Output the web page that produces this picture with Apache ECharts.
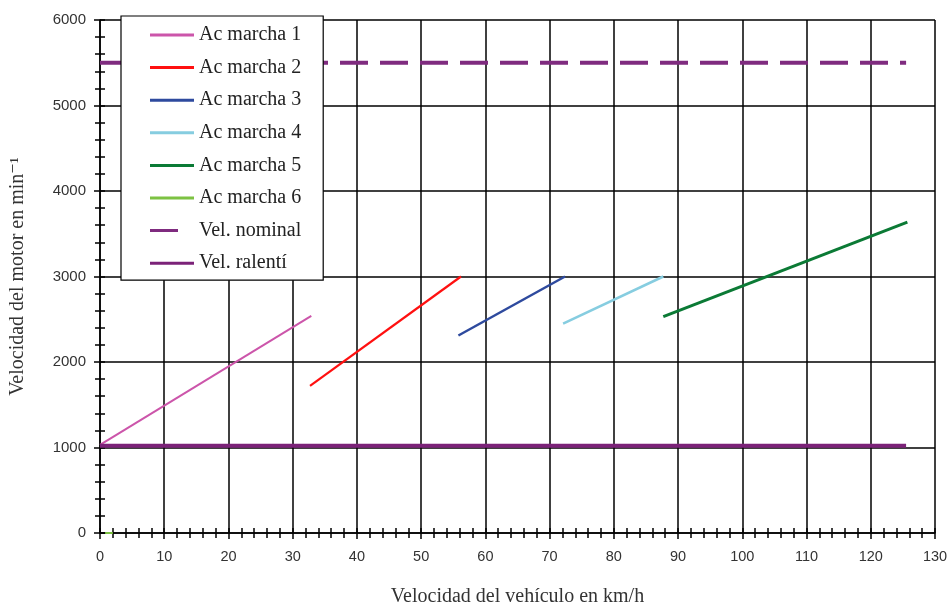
<!DOCTYPE html>
<html><head><meta charset="utf-8">
<script src="https://cdn.jsdelivr.net/npm/echarts@6/dist/echarts.min.js"></script>
<style>html,body{margin:0;padding:0;background:#fff}#c{width:952px;height:606px}</style>
</head><body><div id="c"></div>
<script>
const seriesNames = ['Ac marcha 1','Ac marcha 2','Ac marcha 3','Ac marcha 4','Ac marcha 5','Ac marcha 6','Vel. nominal','Vel. ralentí'];
const speedX = [
  [0, 32.9],
  [32.7, 56.2],
  [55.8, 72.4],
  [72.1, 87.7],
  [87.7, 125.7],
  [0.8, 2.0],
  [0, 125.5],
  [0, 125.5]
];
const rpmY = [
  [1030, 2540],
  [1720, 3000],
  [2310, 3000],
  [2450, 3000],
  [2530, 3635],
  [0, 0],
  [5500, 5500],
  [1020, 1020]
];
const xTicks = [0,10,20,30,40,50,60,70,80,90,100,110,120,130];
const yTicks = [0,1000,2000,3000,4000,5000,6000];

const colors = ['#CC55AA','#FF1010','#2E4A9E','#86CDE0','#0B7A35','#7DC242','#7F2B7F','#7B2278'];
const widths = [2,2.2,2.5,2.5,3,2,4,4];

const series = seriesNames.map((n,i)=>({
  name: n, type:'line', symbol:'none', xAxisIndex:0, yAxisIndex:0,
  data: speedX[i].map((x,j)=>[x, rpmY[i][j]]),
  lineStyle:{color:colors[i], width:widths[i], type: i===6 ? [28,12] : 'solid'},
  itemStyle:{color:colors[i]},
  z: i===7 ? 3 : 2,
  animation:false
}));

const lineIcon = 'path://M0,0L44,0L44,3L0,3Z';
const dashIcon = 'path://M0,0L28,0L28,3L0,3ZM44,0L44,3';
const serif = '"Liberation Serif","DejaVu Serif",serif';
const sans = '"Liberation Sans",Arial,sans-serif';
const chart = echarts.init(document.getElementById('c'));
chart.setOption({
  animation:false,
  grid:{left:100,right:17,top:20,bottom:73, containLabel:false, outerBoundsMode:'none'},
  legend:{
    orient:'vertical', left:121, top:16,
    data: seriesNames.map((n,i)=>({name:n, icon: i===6 ? dashIcon : lineIcon})),
    backgroundColor:'#fff', borderColor:'#000', borderWidth:1.2, borderRadius:0,
    padding:[9,22,7,29], itemWidth:44, itemHeight:3, itemGap:12.6,
    textStyle:{fontFamily:serif, fontSize:20, color:'#222'},
    z: 10
  },
  xAxis:[{
    type:'value', min:xTicks[0], max:xTicks[xTicks.length-1], interval:10,
    name:'Velocidad del vehículo en km/h', nameLocation:'middle', nameGap:54,
    nameTextStyle:{fontFamily:serif, fontSize:20, color:'#333'},
    axisLine:{show:true, lineStyle:{color:'#000', width:1.5}},
    axisTick:{show:true, length:6, lineStyle:{color:'#000', width:1.5}},
    minorTick:{show:true, splitNumber:5, length:5, lineStyle:{color:'#000', width:1.5}},
    axisLabel:{fontFamily:sans, fontSize:14.5, color:'#333', margin:16},
    splitLine:{show:true, lineStyle:{color:'#000', width:1.5}}
  },{
    type:'value', min:xTicks[0], max:xTicks[xTicks.length-1], interval:10, position:'bottom',
    axisLine:{show:false},
    axisTick:{show:true, inside:true, length:5, lineStyle:{color:'#000', width:1.5}},
    minorTick:{show:true, splitNumber:5, length:5, lineStyle:{color:'#000', width:1.5}},
    axisLabel:{show:false}, splitLine:{show:false}
  }],
  yAxis:[{
    type:'value', min:yTicks[0], max:yTicks[yTicks.length-1], interval:1000,
    name:'Velocidad del motor en min⁻¹', nameLocation:'middle', nameGap:72,
    nameTextStyle:{fontFamily:serif, fontSize:20, color:'#333'},
    axisLine:{show:true, lineStyle:{color:'#000', width:1.5}},
    axisTick:{show:true, length:6, lineStyle:{color:'#000', width:1.5}},
    minorTick:{show:true, splitNumber:5, length:5, lineStyle:{color:'#000', width:1.5}},
    axisLabel:{fontFamily:sans, fontSize:15, color:'#333', margin:14, formatter: v => String(v)},
    splitLine:{show:true, lineStyle:{color:'#000', width:1.5}}
  },{
    type:'value', min:yTicks[0], max:yTicks[yTicks.length-1], interval:1000, position:'left',
    axisLine:{show:false},
    axisTick:{show:true, inside:true, length:5, lineStyle:{color:'#000', width:1.5}},
    minorTick:{show:true, splitNumber:5, length:5, lineStyle:{color:'#000', width:1.5}},
    axisLabel:{show:false}, splitLine:{show:false}
  }],
  series: series
});
</script></body></html>
